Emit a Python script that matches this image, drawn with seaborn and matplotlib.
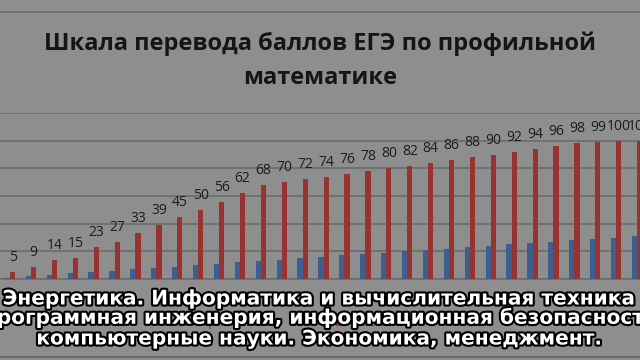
import matplotlib
matplotlib.use("Agg")
import matplotlib.pyplot as plt
import numpy as np
import pandas as pd
import seaborn as sns
from matplotlib import patheffects as pe
from matplotlib.lines import Line2D
from matplotlib.patches import Patch

# ---- data ----
categories = ["1", "2", "3", "4", "5", "6", "7", "8", "9", "10",
              "11", "12", "13", "14", "15", "16", "17", "18", "19", "20",
              "21", "22", "23", "24", "25", "26", "27", "28", "29", "30", "31"]
primary_scores = [1, 2, 3, 4, 5, 6, 7, 8, 9, 10,
                  11, 12, 13, 14, 15, 16, 17, 18, 19, 20,
                  21, 22, 23, 24, 25, 26, 27, 28, 29, 30, 31]
test_scores = [5, 9, 14, 15, 23, 27, 33, 39, 45, 50,
               56, 62, 68, 70, 72, 74, 76, 78, 80, 82,
               84, 86, 88, 90, 92, 94, 96, 98, 99, 100, 100]
series_names = ["Первичный балл", "Тестовый балл"]
title_text = "Шкала перевода баллов ЕГЭ по профильной\nматематике"
subtitle_lines = ["Энергетика. Информатика и вычислительная техника",
                  "Программная инженерия, информационная безопасность,",
                  "компьютерные науки. Экономика, менеджмент."]

df = pd.DataFrame({
    "cat": categories * 2,
    "val": primary_scores + test_scores,
    "series": [series_names[0]] * len(categories) + [series_names[1]] * len(categories),
})

BG = "#8e8e8e"
BLUE = "#3d5f8f"
RED = "#973431"
GRID = "#6c6c6c"

sns.set_theme(style="white")
plt.rcParams["font.family"] = ["Open Sans", "DejaVu Sans"]

W, H = 640, 360
fig = plt.figure(figsize=(6.4, 3.6), dpi=100, facecolor=BG)

# axes: category i center at pixel 10 + 20.9*i, baseline at y=279, top at y=113
left_px, right_px = 0, 640
ax = fig.add_axes([left_px / W, 1 - 279 / H, (right_px - left_px) / W, (279 - 113) / H])
ax.set_facecolor(BG)

sns.barplot(data=df, x="cat", y="val", hue="series", palette=[BLUE, RED],
            width=0.5, dodge=True, saturation=1, ax=ax, legend=False,
            order=categories, hue_order=series_names, zorder=3,
            linewidth=0, edgecolor="none")

ax.set_ylim(0, 120)
ax.set_xlim(-0.48, 30.14)
ax.set_yticks([0, 20, 40, 60, 80, 100, 120])
ax.yaxis.grid(True, color=GRID, linewidth=1.2, zorder=0)
ax.set_axisbelow(True)
ax.tick_params(left=False, bottom=False, labelleft=False, labelbottom=False)
ax.set_xlabel("")
ax.set_ylabel("")
for s in ["top", "right", "left"]:
    ax.spines[s].set_visible(False)
ax.spines["bottom"].set_color(GRID)
ax.spines["bottom"].set_linewidth(1.2)

ax.bar_label(ax.containers[1], labels=[str(v) for v in test_scores],
             padding=5, fontsize=10, color="#1c1c1c")

# title
fig.text(0.5, 1 - 61 / H, title_text, ha="center", va="center",
         fontsize=17, fontweight="bold", color="#151515", linespacing=1.55)

# frame lines
fig.add_artist(Line2D([0, 1], [1 - 12 / H, 1 - 12 / H], color="#6a6a6a", linewidth=1.2))
fig.add_artist(Line2D([0, 1], [1 - 357 / H, 1 - 357 / H], color="#6a6a6a", linewidth=1.5))

# legend (mostly hidden behind subtitles)
handles = [Patch(facecolor=BLUE, edgecolor="none"), Patch(facecolor=RED, edgecolor="none")]
fig.legend(handles, series_names, loc="center", bbox_to_anchor=(0.47, 1 - 323 / H),
           ncol=2, frameon=False, fontsize=7, handlelength=0.7, handleheight=0.7,
           columnspacing=6, labelcolor="#333333")

# subtitles
ys = [299, 318, 339]
xs = [0.5, 0.505, 0.5]
for txt, y, x in zip(subtitle_lines, ys, xs):
    fig.text(x, 1 - y / H, txt, ha="center", va="center", fontsize=14.5,
             fontweight="bold", color="white", family=["DejaVu Sans"],
             path_effects=[pe.withStroke(linewidth=3, foreground="black")], zorder=10)

fig.savefig("out.png", dpi=100, facecolor=BG)
